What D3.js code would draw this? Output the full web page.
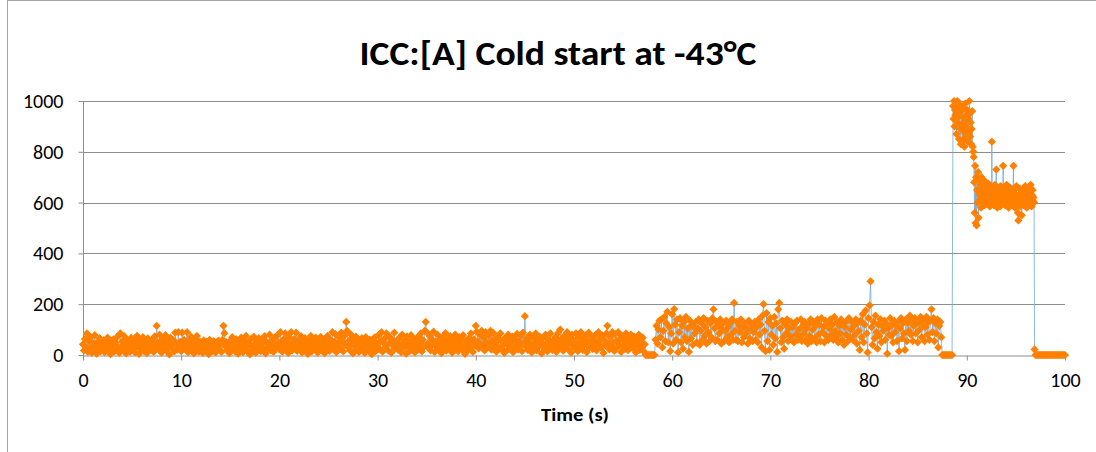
<!DOCTYPE html>
<html>
<head>
<meta charset="utf-8">
<script src="https://cdn.jsdelivr.net/npm/d3@7"></script>
<style>
body { margin: 0; background: #fff; }
svg { display: block; }
</style>
</head>
<body>
<div id="chart"></div>
<script>
// readings from the cold start log, each run sampled at a fixed step
var lowRun = [ // 0.0 .. 57.2 s, every 0.1 s
  42,18,63,30,85,12,55,27,70,9,48,33,78,21,5,52,38,66,15,44,
  26,58,11,47,35,68,19,41,3,56,29,62,14,50,37,72,24,8,85,31,
  53,17,74,39,6,60,28,45,13,67,34,22,57,10,49,75,32,4,61,25,
  43,70,16,54,36,7,65,29,48,20,58,40,12,73,33,115,51,23,80,38,
  9,62,30,47,78,18,55,35,2,68,41,26,59,14,88,44,21,90,31,52,
  15,88,37,60,24,46,90,11,57,33,72,19,50,6,64,28,75,40,13,53,
  29,46,8,58,35,20,52,41,3,60,27,44,16,55,31,10,49,38,57,22,
  45,12,60,115,86,34,51,18,40,7,56,29,70,23,47,14,62,36,5,53,
  25,68,39,11,57,30,75,17,48,42,2,63,33,21,72,44,9,55,27,66,
  38,15,59,47,24,74,6,52,31,43,80,19,56,36,12,67,41,28,78,50,
  22,90,45,13,61,34,85,27,54,8,70,39,90,18,48,63,30,88,16,57,
  41,25,74,10,52,35,66,20,46,4,59,31,75,14,43,56,27,68,37,9,
  50,32,71,19,58,42,7,64,29,75,45,16,60,36,90,23,53,82,11,47,
  34,68,26,88,52,14,75,40,130,95,31,57,18,80,44,6,63,35,72,21,
  49,12,58,37,66,24,45,8,70,30,53,19,61,41,3,56,28,69,15,46,
  33,78,22,55,90,13,48,64,29,85,40,17,72,51,9,60,36,88,25,44,
  57,20,67,38,11,80,46,30,59,5,73,34,52,16,78,42,26,63,10,55,
  39,71,23,49,85,14,60,32,95,130,90,45,28,76,18,62,40,92,12,54,
  35,80,21,58,43,7,69,30,50,86,17,61,38,24,74,46,9,65,33,80,
  27,52,14,70,41,60,22,78,36,4,57,45,19,66,31,85,48,12,62,38,
  115,92,54,26,80,44,95,33,67,18,90,50,29,76,40,95,21,58,86,35,
  47,13,70,30,62,85,24,53,39,8,68,44,19,80,35,57,26,72,11,49,
  60,31,83,22,55,40,75,15,88,46,153,34,64,20,52,80,37,10,69,28,
  45,85,18,58,33,72,50,6,66,39,24,80,47,14,61,30,85,42,20,56,
  36,70,12,52,88,28,100,62,43,17,75,34,55,90,23,48,68,9,80,38,
  57,26,85,44,15,70,33,90,50,20,64,41,78,11,55,88,30,47,72,24,
  60,35,80,18,52,90,43,67,28,76,8,58,38,85,115,46,22,70,33,90,
  49,16,82,55,30,90,41,64,12,75,37,58,24,85,46,19,68,35,80,52,
  27,72,44,10,63,38,80,20,55,31,68,15,42
];
var idleA = [0,0,0,0,0,0,0,0,0,0]; // 57.3 .. 58.2 s
var midRun = [ // 58.3 .. 87.4 s, every 0.1 s
  60,115,45,100,135,70,140,30,95,150,55,125,170,50,110,15,85,160,45,181,
  120,60,140,10,90,145,50,115,25,130,70,150,55,105,12,135,65,120,40,110,
  85,130,50,105,140,40,95,125,60,145,75,110,45,135,90,55,125,70,145,180,
  105,55,130,60,115,85,140,45,100,125,55,95,135,70,110,50,125,80,140,60,
  205,95,60,130,55,115,90,140,50,110,70,125,85,105,45,135,65,100,120,55,
  90,130,60,110,50,140,80,120,30,155,200,95,15,165,55,130,20,145,80,115,
  40,150,65,125,12,180,205,105,50,135,70,25,120,85,140,55,105,75,130,60,
  110,50,125,80,135,60,100,70,140,55,115,85,130,60,105,45,120,75,140,55,
  100,130,65,115,50,140,80,120,55,145,90,110,50,135,75,125,60,105,140,80,
  120,60,150,95,70,130,50,115,85,140,60,125,40,110,80,135,55,145,70,100,
  130,60,115,80,140,45,125,95,20,135,70,160,50,120,175,85,10,145,195,290,
  110,40,130,65,155,90,25,120,75,140,50,115,95,135,60,125,5,105,80,145,
  75,120,50,135,90,115,55,130,15,105,145,65,125,85,20,140,55,125,95,155,
  80,135,55,115,145,85,125,50,130,100,150,70,120,140,55,110,150,80,130,60,
  135,180,90,145,55,125,85,140,30,115,130,70
];
var idleB = [0,0,0,0,0,0,0,0,0,0,0]; // 87.5 .. 88.5 s
var peakRun = [ // 88.6 .. 90.7 s, every 0.05 s
  980,930,1000,900,965,945,990,870,955,1000,
  915,975,850,940,985,890,830,960,905,845,
  975,880,935,820,920,990,860,945,895,965,
  840,930,875,1000,950,860,915,830,890,960,
  820,800,780
];
var plateauRun = [ // 90.75 .. 96.85 s, every 0.05 s
  680,560,745,520,700,510,650,600,720,540,
  690,630,610,670,580,700,640,660,600,690,
  620,650,590,680,630,610,660,595,640,675,
  605,650,585,630,665,600,840,640,610,655,
  590,630,670,600,645,730,615,580,660,625,
  650,600,635,585,665,620,595,645,610,745,
  630,600,655,590,640,615,670,595,625,650,
  580,640,610,660,600,625,590,645,615,635,
  745,600,650,580,630,610,665,590,625,560,
  530,620,600,655,585,640,610,550,635,600,
  650,590,625,610,665,600,640,580,630,615,
  655,595,620,640,600,670,610,585,630,650,
  605,620,600
];
var tailRun = [22,0,0,0,0,0,0,0,0,0,0,0,0,0,0,0,0,0,0,0,0,0,0,0,0,0,0,0,0,0,0,0]; // 96.9 .. 100 s

var runStarts = [0, 57.3, 58.3, 87.5, 88.6, 90.75, 96.9];
var runSteps = [0.1, 0.1, 0.1, 0.1, 0.05, 0.05, 0.1];
var runs = [lowRun, idleA, midRun, idleB, peakRun, plateauRun, tailRun];

var xTicks = [0, 10, 20, 30, 40, 50, 60, 70, 80, 90, 100];
var yTicks = [0, 200, 400, 600, 800, 1000];

var points = [];
runs.forEach(function(vals, r) {
    vals.forEach(function(v, i) {
        points.push({ t: +(runStarts[r] + i * runSteps[r]).toFixed(3), v: v });
    });
});

var width = 1096, height = 452;
var margin = { top: 101, right: 31, bottom: 97, left: 83 };
var font = "Carlito, Calibri, 'Open Sans', sans-serif";

var svg = d3.select("#chart").append("svg")
    .attr("width", width)
    .attr("height", height);

// chart frame
svg.append("rect")
    .attr("x", 7.5).attr("y", 0.5)
    .attr("width", 1200).attr("height", 600)
    .attr("fill", "none")
    .attr("stroke", "#a6a6a6");

var x = d3.scaleLinear().domain([0, 100]).range([margin.left, width - margin.right]);
var y = d3.scaleLinear().domain([0, 1000]).range([height - margin.bottom, margin.top]);

// horizontal grid
svg.append("g").selectAll("line")
    .data(yTicks.slice(1))
    .enter().append("line")
    .attr("x1", x(0)).attr("x2", x(100))
    .attr("y1", d => Math.round(y(d)) + 0.5).attr("y2", d => Math.round(y(d)) + 0.5)
    .attr("stroke", "#8e8e8e");

var yAxis = svg.append("g")
    .attr("transform", `translate(${x(0) + 0.5},0)`)
    .call(d3.axisLeft(y).tickValues(yTicks).tickSize(5).tickSizeOuter(0).tickPadding(15).tickFormat(d3.format("d")));

var xAxis = svg.append("g")
    .attr("transform", `translate(0,${Math.round(y(0)) + 0.5})`)
    .call(d3.axisBottom(x).tickValues(xTicks).tickSize(5).tickSizeOuter(0).tickPadding(12).tickFormat(d3.format("d")));

[xAxis, yAxis].forEach(function(ax) {
    ax.select(".domain").attr("stroke", "#8e8e8e");
    ax.selectAll(".tick line").attr("stroke", "#8e8e8e");
    ax.selectAll("text")
        .attr("fill", "#000")
        .style("font-family", font)
        .style("font-size", "20px");
});
yAxis.select(".domain").attr("d", `M0,${y(1000)}V${y(0) + 5}`);

// connecting line, then markers on top
var line = d3.line().x(d => x(d.t)).y(d => y(d.v));
svg.append("path")
    .datum(points)
    .attr("d", line)
    .attr("fill", "none")
    .attr("stroke", "#6fa8dc")
    .attr("stroke-width", 0.8);

var diamond = d3.symbol().type(d3.symbolSquare).size(34)();
svg.append("g").selectAll("path")
    .data(points)
    .enter().append("path")
    .attr("d", diamond)
    .attr("transform", d => `translate(${x(d.t)},${y(d.v)}) rotate(45)`)
    .attr("fill", "#ff8000");

svg.append("text")
    .attr("x", 558).attr("y", 65)
    .attr("text-anchor", "middle")
    .attr("textLength", 397)
    .attr("lengthAdjust", "spacingAndGlyphs")
    .style("font-family", font)
    .style("font-weight", "bold")
    .style("font-size", "34px")
    .text("ICC:[A] Cold start at -43°C");

svg.append("text")
    .attr("x", 575).attr("y", 421)
    .attr("text-anchor", "middle")
    .attr("textLength", 68)
    .attr("lengthAdjust", "spacingAndGlyphs")
    .style("font-family", font)
    .style("font-weight", "bold")
    .style("font-size", "17px")
    .text("Time (s)");
</script>
</body>
</html>
